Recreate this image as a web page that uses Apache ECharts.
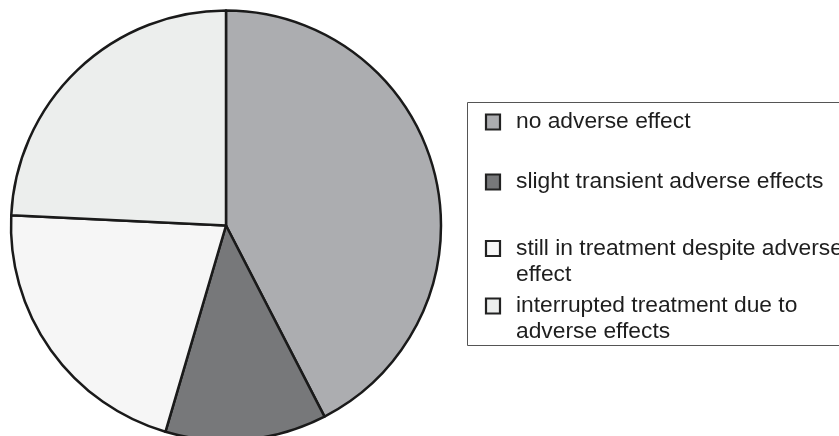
<!DOCTYPE html>
<html>
<head>
<meta charset="utf-8">
<style>
  html, body { margin: 0; padding: 0; background: #ffffff; }
  #chart { width: 839px; height: 436px; }
</style>
<script src="https://cdn.jsdelivr.net/npm/echarts@6/dist/echarts.min.js"></script>
</head>
<body>
<div id="chart"></div>
<script>
// Outcome groups and patient counts
const categories = [
  'no adverse effect',
  'slight transient adverse effects',
  'still in treatment despite adverse\neffect',
  'interrupted treatment due to\nadverse effects'
];
const counts = [14, 4, 7, 8];
const sliceColors = ['#acadb0', '#77787a', '#f6f6f6', '#eceeed'];

const chart = echarts.init(document.getElementById('chart'), null, { renderer: 'canvas' });

// Legend panel drawn as graphic elements so each swatch sits on the first text line
const legendLeft = 467, legendTop = 102, legendBottom = 345;
const swatchX = 485, textX = 516;
const rowCenters = [122, 182, 248.5, 306];
const lineHeight = 26;

const legendGraphics = [{
  type: 'rect',
  shape: { x: legendLeft + 0.5, y: legendTop + 0.5, width: 500, height: legendBottom - legendTop },
  style: { fill: 'none', stroke: '#555555', lineWidth: 1 },
  silent: true
}];
categories.forEach((name, i) => {
  const cy = rowCenters[i];
  legendGraphics.push({
    type: 'rect',
    shape: { x: swatchX + 1, y: cy - 7.5, width: 14, height: 15 },
    style: { fill: sliceColors[i], stroke: '#222222', lineWidth: 2.2 },
    silent: true
  });
  legendGraphics.push({
    type: 'text',
    x: textX,
    y: cy - lineHeight / 2,
    style: {
      text: name,
      fill: '#1e1e1e',
      font: '22.8px "Liberation Sans", Arial, sans-serif',
      lineHeight: lineHeight,
      verticalAlign: 'top',
      align: 'left'
    },
    silent: true
  });
});

chart.setOption({
  animation: false,
  backgroundColor: '#ffffff',
  series: [{
    type: 'pie',
    center: [226, 225.5],
    radius: 215,
    startAngle: 90,
    clockwise: true,
    label: { show: false },
    labelLine: { show: false },
    emphasis: { disabled: true },
    itemStyle: { borderColor: '#1a1a1a', borderWidth: 2.5 },
    data: categories.map((name, i) => ({
      name: name,
      value: counts[i],
      itemStyle: { color: sliceColors[i] }
    }))
  }],
  graphic: legendGraphics
});
</script>
</body>
</html>
